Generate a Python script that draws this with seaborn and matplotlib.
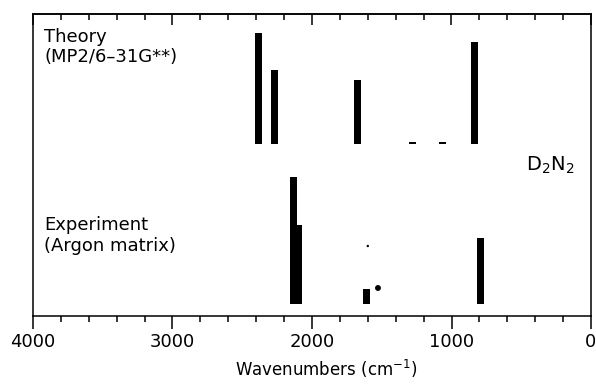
import numpy as np
import pandas as pd
import matplotlib
matplotlib.use("Agg")
import matplotlib.pyplot as plt
import seaborn as sns

# ---- data (wavenumbers in cm^-1, intensities in arbitrary units) ----
theory_wn = [2384, 2272, 1674, 1283, 1068, 835]
theory_int = [111, 74, 64, 2, 2, 102]
exp_wn = [2133, 2100, 1609, 792]
exp_int = [127, 79, 15, 66]
exp_dot_wn = [1527, 1600]
exp_dot_int = [16, 58]
theory_base = 172
exp_base = 12
xticks_major = [4000, 3000, 2000, 1000, 0]
xtick_labels = ["4000", "3000", "2000", "1000", "0"]

sns.set_theme(style="ticks")
plt.rcParams["font.family"] = ["DejaVu Sans"]
plt.rcParams["text.color"] = "black"
plt.rcParams["axes.labelcolor"] = "black"

fig = plt.figure(figsize=(5.96, 3.88), dpi=100)
ax = fig.add_axes([33 / 596, 1 - 316 / 388, (591 - 33) / 596, (316 - 14) / 388])

bar_w = 50.0
th = pd.DataFrame({"wn": theory_wn, "I": theory_int})
ex = pd.DataFrame({"wn": exp_wn, "I": exp_int})
w_th = bar_w / np.diff(np.sort(th["wn"].unique())).min()
w_ex = bar_w / np.diff(np.sort(ex["wn"].unique())).min()

sns.barplot(data=th, x="wn", y="I", native_scale=True, orient="x", width=w_th,
            color="black", errorbar=None, bottom=theory_base, linewidth=0,
            saturation=1, ax=ax)
sns.barplot(data=ex, x="wn", y="I", native_scale=True, orient="x", width=w_ex,
            color="black", errorbar=None, bottom=exp_base, linewidth=0,
            saturation=1, ax=ax)
dots = pd.DataFrame({"wn": exp_dot_wn, "y": np.array(exp_dot_int) + exp_base})
sns.scatterplot(data=dots, x="wn", y="y", color="black", s=[18, 3], size=None,
                linewidth=0, ax=ax, legend=False)

ax.set_xlim(4000, 0)
ax.set_ylim(0, 302)
ax.set_yticks([])
ax.set_ylabel("")
ax.set_xticks(xticks_major)
ax.set_xticklabels(xtick_labels, fontsize=13, color="black")
ax.set_xticks(np.arange(0, 4001, 200), minor=True)
ax.tick_params(axis="x", which="major", direction="out", length=9, width=1.1,
               pad=3.5, colors="black")
ax.tick_params(axis="x", which="minor", direction="out", length=4, width=1.1,
               colors="black")
for s in ax.spines.values():
    s.set_visible(True)
    s.set_linewidth(1.1)
    s.set_color("black")

sec = ax.secondary_xaxis("top")
sec.set_xticks(xticks_major)
sec.set_xticks(np.arange(0, 4001, 200), minor=True)
sec.tick_params(axis="x", which="major", direction="in", length=8, width=1.1,
                labeltop=False, colors="black")
sec.tick_params(axis="x", which="minor", direction="in", length=4, width=1.1,
                colors="black")
sec.spines["top"].set_linewidth(1.1)
sec.spines["top"].set_color("black")

ax.set_xlabel("Wavenumbers (cm$^{-1}$)", fontsize=12, color="black")
ax.xaxis.set_label_coords((326 - 33) / (591 - 33), -(358 - 316) / (316 - 14))

ax.text(0.02, 0.955, "Theory\n(MP2/6\u201331G**)", transform=ax.transAxes,
        fontsize=13, va="top", ha="left", linespacing=1.2, color="black")
ax.text(0.02, 0.33, "Experiment\n(Argon matrix)", transform=ax.transAxes,
        fontsize=13, va="top", ha="left", linespacing=1.2, color="black")
ax.text(0.97, 0.5, "D$_2$N$_2$", transform=ax.transAxes, fontsize=14,
        va="center", ha="right", color="black")

fig.savefig("out.png", dpi=100)
